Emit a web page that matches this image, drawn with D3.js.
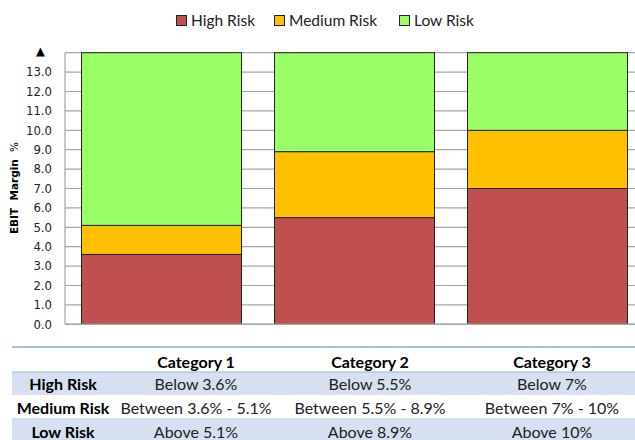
<!DOCTYPE html>
<html>
<head>
<meta charset="utf-8">
<script src="https://cdn.jsdelivr.net/npm/d3@7"></script>
<style>
  html, body { margin: 0; padding: 0; background: #fff; }
  svg { display: block; }
  text { white-space: pre; }
</style>
</head>
<body>
<script>
// Risk thresholds of EBIT margin (%) per category
const categories = ["Category 1", "Category 2", "Category 3"];
const highRiskUpper = [3.6, 5.5, 7];      // high risk below this value
const mediumRiskUpper = [5.1, 8.9, 10];   // medium risk up to this value
const axisMax = 14;                        // low risk band runs up to the axis top
const riskLevels = ["High Risk", "Medium Risk", "Low Risk"];
const riskColors = ["#c0504d", "#ffc000", "#99ff66"];
const yTicks = [0, 1, 2, 3, 4, 5, 6, 7, 8, 9, 10, 11, 12, 13];

const W = 635, H = 440;
const plot = { left: 65, right: 644, top: 52.7, bottom: 324.3 };

const svg = d3.select("body").append("svg").attr("width", W).attr("height", H);

const x = d3.scaleBand().domain(categories)
  .range([plot.left, plot.right])
  .paddingInner(0.171).paddingOuter(0.0855);
const y = d3.scaleLinear().domain([0, axisMax]).range([plot.bottom, plot.top]);

// Stacked segment heights
const rows = categories.map((c, i) => ({
  category: c,
  "High Risk": highRiskUpper[i],
  "Medium Risk": mediumRiskUpper[i] - highRiskUpper[i],
  "Low Risk": axisMax - mediumRiskUpper[i]
}));
const series = d3.stack().keys(riskLevels)(rows);

// Gridlines
svg.append("g")
  .selectAll("line").data(yTicks.concat([axisMax])).join("line")
  .attr("x1", plot.left).attr("x2", W)
  .attr("y1", d => y(d)).attr("y2", d => y(d))
  .attr("stroke", "#a6a6a6").attr("stroke-width", 1.2);

// Left axis line
svg.append("line")
  .attr("x1", plot.left).attr("x2", plot.left)
  .attr("y1", y(axisMax)).attr("y2", y(0))
  .attr("stroke", "#a6a6a6").attr("stroke-width", 1.2);

// Bars
svg.append("g").selectAll("g").data(series).join("g")
  .attr("fill", (d, i) => riskColors[i])
  .selectAll("rect").data(d => d).join("rect")
  .attr("x", d => x(d.data.category))
  .attr("width", x.bandwidth())
  .attr("y", d => y(d[1]))
  .attr("height", d => y(d[0]) - y(d[1]))
  .attr("stroke", "#222").attr("stroke-width", 1);

// Bottom axis line
svg.append("line")
  .attr("x1", plot.left).attr("x2", W)
  .attr("y1", y(0)).attr("y2", y(0))
  .attr("stroke", "#a6a6a6").attr("stroke-width", 1.6);

// Y tick labels
const yAxis = d3.axisLeft(y).tickValues(yTicks).tickFormat(d3.format(".1f")).tickSize(0).tickPadding(13);
const gy = svg.append("g").attr("transform", `translate(${plot.left},0)`).call(yAxis);
gy.select(".domain").remove();
gy.selectAll("text")
  .attr("font-family", "DejaVu Sans, Verdana, sans-serif")
  .attr("font-size", 11.7).attr("fill", "#222");

// Arrow marker above the axis
svg.append("text")
  .attr("x", 40.5).attr("y", 55)
  .attr("text-anchor", "middle")
  .attr("font-family", "DejaVu Sans, sans-serif")
  .attr("font-size", 11.5).attr("fill", "#000")
  .text("▲");

// Y axis title
const yt = svg.append("text")
  .attr("transform", `translate(18,188) rotate(-90)`)
  .attr("text-anchor", "middle")
  .attr("font-family", "DejaVu Sans, Verdana, sans-serif")
  .attr("font-size", 10.5).attr("fill", "#000");
yt.append("tspan").attr("font-weight", "bold").text("EBIT  Margin  ");
yt.append("tspan").text("%");

// Legend
const legendX = [176, 274, 399];
const lg = svg.append("g").selectAll("g").data(riskLevels).join("g")
  .attr("transform", (d, i) => `translate(${legendX[i]},15)`);
lg.append("rect").attr("width", 10).attr("height", 10)
  .attr("x", 0.5).attr("y", 0.5)
  .attr("fill", (d, i) => riskColors[i]).attr("stroke", "#222").attr("stroke-width", 1);
lg.append("text").attr("x", 15).attr("y", 10.5)
  .attr("font-family", "Lato, 'Open Sans', sans-serif")
  .attr("font-size", 15.5).attr("fill", "#222")
  .text(d => d);

// Threshold table
const fmt = v => `${v}%`;
const tableText = [
  highRiskUpper.map(v => `Below ${fmt(v)}`),
  mediumRiskUpper.map((v, i) => `Between ${fmt(highRiskUpper[i])} - ${fmt(v)}`),
  mediumRiskUpper.map(v => `Above ${fmt(v)}`)
];
const colX = [196, 370, 552];
const labelX = 63;
const rowBands = [
  { top: 372, bottom: 395, fill: "#d6e0f0" },
  { top: 395, bottom: 418, fill: "#ffffff" },
  { top: 418, bottom: 441, fill: "#d6e0f0" }
];
const rowTextY = [384, 408, 432];
const tbl = svg.append("g").attr("font-family", "Lato, 'Open Sans', sans-serif").attr("font-size", 16);

tbl.selectAll("rect.band").data(rowBands).join("rect")
  .attr("class", "band")
  .attr("x", 12).attr("width", W - 12)
  .attr("y", d => d.top).attr("height", d => d.bottom - d.top)
  .attr("fill", d => d.fill);
tbl.append("line").attr("x1", 12).attr("x2", W).attr("y1", 347).attr("y2", 347)
  .attr("stroke", "#a7bfdf").attr("stroke-width", 2);
tbl.append("line").attr("x1", 12).attr("x2", W).attr("y1", 372).attr("y2", 372)
  .attr("stroke", "#95b3d7").attr("stroke-width", 1);

tbl.selectAll("text.head").data(categories).join("text")
  .attr("class", "head")
  .attr("x", (d, i) => colX[i]).attr("y", 362)
  .attr("dy", "0.35em").attr("text-anchor", "middle")
  .attr("font-weight", "bold").attr("fill", "#000")
  .text(d => d);

tbl.selectAll("text.rowlabel").data(riskLevels).join("text")
  .attr("class", "rowlabel")
  .attr("x", labelX).attr("y", (d, i) => rowTextY[i])
  .attr("dy", "0.35em").attr("text-anchor", "middle")
  .attr("font-weight", "bold").attr("fill", "#000")
  .text(d => d);

tableText.forEach((row, r) => {
  tbl.append("g").selectAll("text").data(row).join("text")
    .attr("x", (d, i) => colX[i]).attr("y", rowTextY[r])
    .attr("dy", "0.35em").attr("text-anchor", "middle")
    .attr("fill", "#222")
    .text(d => d);
});
</script>
</body>
</html>
